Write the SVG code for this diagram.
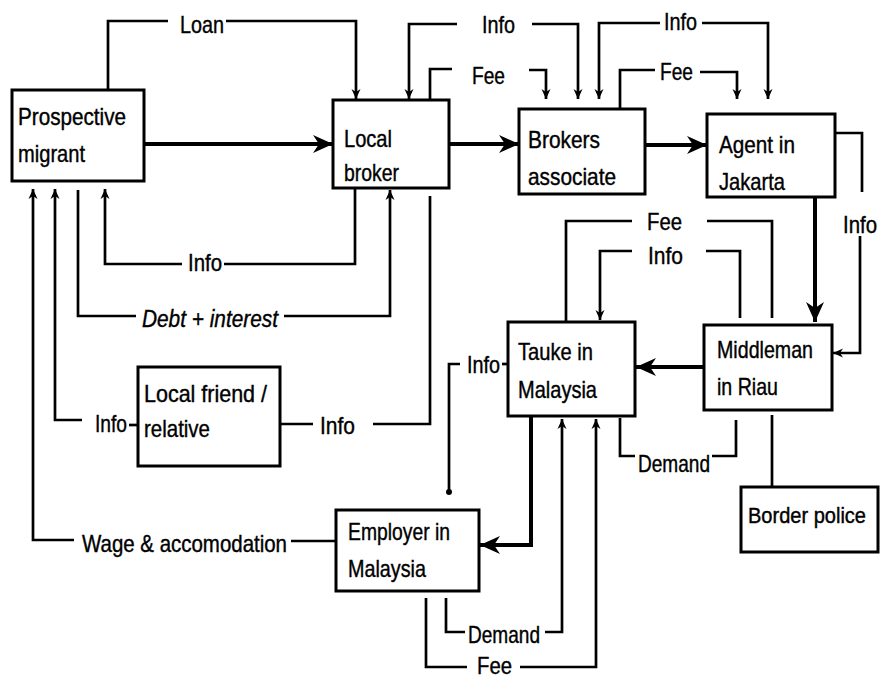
<svg xmlns="http://www.w3.org/2000/svg" width="885" height="678" viewBox="0 0 885 678">
<style>
.box{fill:#fff;stroke:#000;stroke-width:3}
.t{font-family:"Liberation Sans",Arial,sans-serif;font-size:24px;fill:#000;stroke:#000;stroke-width:0.4}
.i{font-style:italic}
.c{fill:none;stroke:#000;stroke-width:2.7;stroke-linejoin:miter}
.k{fill:none;stroke:#000;stroke-width:4}
.sm{marker-end:url(#sm)}
.lg{marker-end:url(#lg)}
</style>
<defs>
<marker id="sm" viewBox="0 0 10 10" refX="10" refY="5" markerWidth="10" markerHeight="10" markerUnits="userSpaceOnUse" orient="auto">
<path d="M0,0.5 L10,5 L0,9.5 L3,5 z" fill="#000"/>
</marker>
<marker id="lg" viewBox="0 0 20 20" refX="20" refY="10" markerWidth="20" markerHeight="20" markerUnits="userSpaceOnUse" orient="auto">
<path d="M0,1 L20,10 L0,19 L6,10 z" fill="#000"/>
</marker>
</defs>
<rect width="885" height="678" fill="#fff"/>

<g id="connectors">
<path class="c" d="M108,90 V21 H168"/>
<path class="c sm" d="M226,21 H356 V99"/>
<text class="t" x="180" y="33" textLength="44" lengthAdjust="spacingAndGlyphs">Loan</text>

<path class="k lg" d="M144,144 H333"/>

<path class="c" d="M355,188 V264 H224"/>
<path class="c sm" d="M182,264 H105 V189"/>
<text class="t" x="188" y="271" textLength="34" lengthAdjust="spacingAndGlyphs">Info</text>

<path class="c" d="M78,190 V316 H136"/>
<path class="c sm" d="M284,316 H390 V190"/>
<text class="t i" x="142" y="327" textLength="136" lengthAdjust="spacingAndGlyphs">Debt + interest</text>

<path class="c" d="M138,425 H129"/>
<path class="c sm" d="M82,420 H55 V189"/>
<text class="t" x="95" y="432" textLength="32" lengthAdjust="spacingAndGlyphs">Info</text>

<path class="c" d="M280,424 H313"/>
<path class="c" d="M373,424 H430 V196"/>
<text class="t" x="320" y="434" textLength="35" lengthAdjust="spacingAndGlyphs">Info</text>

<path class="c" d="M336,541 H291"/>
<path class="c sm" d="M74,540 H33 V189"/>
<text class="t" x="82" y="552" textLength="205" lengthAdjust="spacingAndGlyphs">Wage &amp; accomodation</text>

<path class="k lg" d="M449,144 H519"/>
<path class="k lg" d="M645,145 H707"/>

<path class="c sm" d="M532,24 H578 V99"/>
<path class="c sm" d="M457,24 H409 V99"/>
<text class="t" x="482" y="33" textLength="33" lengthAdjust="spacingAndGlyphs">Info</text>

<path class="c" d="M430,100 V69 H452"/>
<path class="c sm" d="M529,70 H546 V99"/>
<text class="t" x="472" y="84" textLength="33" lengthAdjust="spacingAndGlyphs">Fee</text>

<path class="c sm" d="M660,23 H599 V99"/>
<path class="c sm" d="M702,23 H768 V99"/>
<text class="t" x="664" y="30" textLength="33" lengthAdjust="spacingAndGlyphs">Info</text>

<path class="c" d="M620,109 V70 H655"/>
<path class="c sm" d="M700,72 H737 V99"/>
<text class="t" x="660" y="80" textLength="33" lengthAdjust="spacingAndGlyphs">Fee</text>

<path class="c" d="M835,133 H862 V192"/>
<path class="c sm" d="M860,236 V353 H833"/>
<text class="t" x="843" y="233" textLength="34" lengthAdjust="spacingAndGlyphs">Info</text>

<path class="k lg" d="M815,197 V322"/>

<path class="c" d="M566,322 V221 H632"/>
<path class="c" d="M707,221 H772 V318"/>
<text class="t" x="647" y="230" textLength="35" lengthAdjust="spacingAndGlyphs">Fee</text>

<path class="c" d="M740,318 V251 H706"/>
<path class="c sm" d="M632,251 H600 V320"/>
<text class="t" x="648" y="264" textLength="35" lengthAdjust="spacingAndGlyphs">Info</text>

<path class="k lg" d="M704,367 H636"/>

<path class="c" d="M508,364 H502"/>
<path class="c" d="M460,364 H449 V492"/>
<circle cx="449" cy="492" r="3" fill="#000"/>
<text class="t" x="467" y="373" textLength="33" lengthAdjust="spacingAndGlyphs">Info</text>

<path class="k lg" d="M531,416 V545 H480"/>

<path class="c" d="M446,598 V632 H465"/>
<path class="c sm" d="M545,632 H562 V419"/>
<text class="t" x="468" y="643" textLength="72" lengthAdjust="spacingAndGlyphs">Demand</text>

<path class="c" d="M426,598 V667 H467"/>
<path class="c sm" d="M520,667 H596 V419"/>
<text class="t" x="477" y="674" textLength="35" lengthAdjust="spacingAndGlyphs">Fee</text>

<path class="c" d="M620,418 V456 H635"/>
<path class="c" d="M712,456 H736 V420"/>
<text class="t" x="638" y="472" textLength="72" lengthAdjust="spacingAndGlyphs">Demand</text>

<path class="c" d="M772,415 V487"/>
</g>

<g id="migrant">
<rect class="box" x="12" y="90" width="132" height="91"/>
<text class="t" x="18" y="125" textLength="108" lengthAdjust="spacingAndGlyphs">Prospective</text>
<text class="t" x="18" y="162" textLength="67" lengthAdjust="spacingAndGlyphs">migrant</text>
</g>
<g id="broker">
<rect class="box" x="333" y="100" width="116" height="88"/>
<text class="t" x="344" y="147" textLength="48" lengthAdjust="spacingAndGlyphs">Local</text>
<text class="t" x="344" y="181" textLength="55" lengthAdjust="spacingAndGlyphs">broker</text>
</g>
<g id="associate">
<rect class="box" x="519" y="109" width="126" height="85"/>
<text class="t" x="528" y="148" textLength="72" lengthAdjust="spacingAndGlyphs">Brokers</text>
<text class="t" x="528" y="185" textLength="88" lengthAdjust="spacingAndGlyphs">associate</text>
</g>
<g id="agent">
<rect class="box" x="707" y="114" width="128" height="83"/>
<text class="t" x="719" y="153" textLength="76" lengthAdjust="spacingAndGlyphs">Agent in</text>
<text class="t" x="719" y="190" textLength="66" lengthAdjust="spacingAndGlyphs">Jakarta</text>
</g>
<g id="middleman">
<rect class="box" x="704" y="325" width="128" height="85"/>
<text class="t" x="717" y="358" textLength="96" lengthAdjust="spacingAndGlyphs">Middleman</text>
<text class="t" x="717" y="395" textLength="61" lengthAdjust="spacingAndGlyphs">in Riau</text>
</g>
<g id="tauke">
<rect class="box" x="508" y="322" width="127" height="94"/>
<text class="t" x="518" y="360" textLength="75" lengthAdjust="spacingAndGlyphs">Tauke in</text>
<text class="t" x="518" y="398" textLength="79" lengthAdjust="spacingAndGlyphs">Malaysia</text>
</g>
<g id="friend">
<rect class="box" x="138" y="367" width="142" height="99"/>
<text class="t" x="144" y="402" textLength="123" lengthAdjust="spacingAndGlyphs">Local friend /</text>
<text class="t" x="144" y="437" textLength="66" lengthAdjust="spacingAndGlyphs">relative</text>
</g>
<g id="employer">
<rect class="box" x="336" y="510" width="143" height="81"/>
<text class="t" x="348" y="540" textLength="102" lengthAdjust="spacingAndGlyphs">Employer in</text>
<text class="t" x="348" y="577" textLength="78" lengthAdjust="spacingAndGlyphs">Malaysia</text>
</g>
<g id="police">
<rect class="box" x="741" y="487" width="137" height="65"/>
<text class="t" x="748" y="523" style="font-size:21.5px" textLength="118" lengthAdjust="spacingAndGlyphs">Border police</text>
</g>
</svg>
